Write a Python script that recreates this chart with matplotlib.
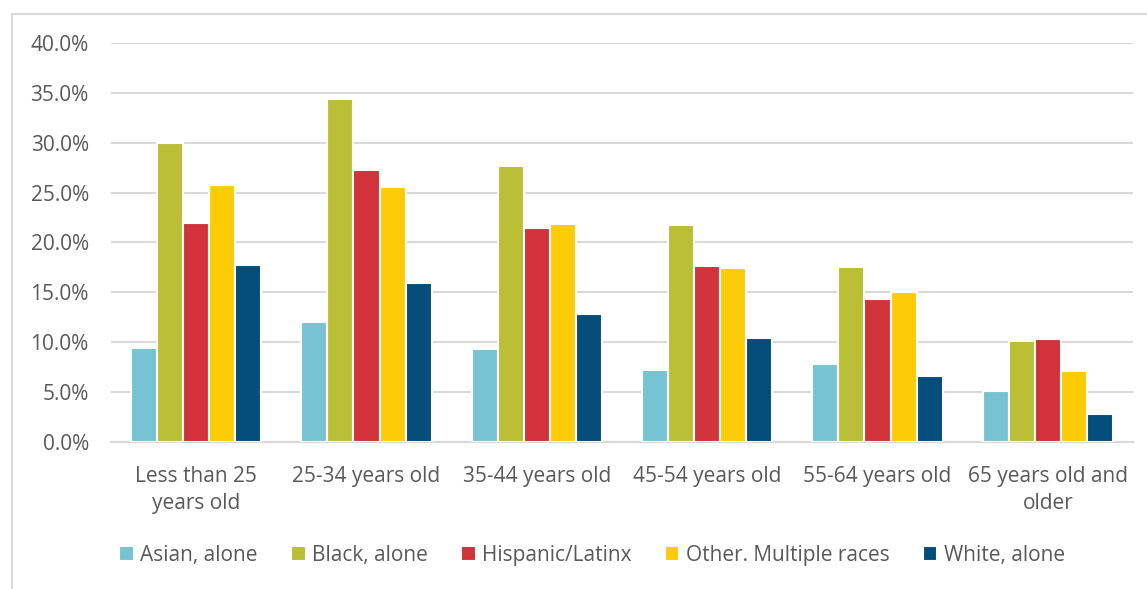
import matplotlib.pyplot as plt
import numpy as np
from matplotlib.patches import Rectangle

plt.rcParams["font.family"] = ["Open Sans", "DejaVu Sans"]

categories = ["Less than 25\nyears old", "25-34 years old", "35-44 years old",
              "45-54 years old", "55-64 years old", "65 years old and\nolder"]
series = ["Asian, alone", "Black, alone", "Hispanic/Latinx",
          "Other. Multiple races", "White, alone"]
asian = [9.4, 12.0, 9.3, 7.2, 7.8, 5.1]
black = [30.0, 34.4, 27.7, 21.8, 17.5, 10.1]
hispanic = [22.0, 27.3, 21.5, 17.6, 14.3, 10.3]
other = [25.8, 25.6, 21.9, 17.4, 15.0, 7.1]
white = [17.7, 15.9, 12.8, 10.4, 6.6, 2.8]
colors = ["#78C3D3", "#BBBF35", "#D2323A", "#FDCC08", "#054D7B"]

values = [asian, black, hispanic, other, white]
text_color = "#595959"

fig = plt.figure(figsize=(11.47, 5.89), dpi=100)
ax = fig.add_axes([111 / 1147, 1 - 442 / 589, (1133 - 111) / 1147, (442 - 43) / 589])

x = np.arange(len(categories))
slot = 0.153
for i, (name, vals) in enumerate(zip(series, values)):
    ax.bar(x + (i - 2) * slot, vals, width=slot, color=colors[i],
           edgecolor="white", linewidth=1.5, label=name, zorder=3)

ax.set_ylim(0, 40)
ax.set_xlim(-0.5, len(categories) - 0.5)
ax.set_yticks(np.arange(0, 41, 5))
ax.set_yticklabels([f"{v:.1f}%" for v in np.arange(0, 41, 5)])
ax.set_xticks(x)
ax.set_xticklabels(categories, linespacing=1.4)
ax.grid(axis="y", color="#D9D9D9", linewidth=1.5, zorder=0)
for s in ["top", "right", "left"]:
    ax.spines[s].set_visible(False)
ax.spines["bottom"].set_color("#D9D9D9")
ax.spines["bottom"].set_linewidth(1.5)
ax.tick_params(axis="both", length=0, labelsize=15, labelcolor=text_color)
ax.tick_params(axis="y", pad=16)
ax.tick_params(axis="x", pad=17)

# legend sits a bit right of the figure centre, as in the original
ax.legend(loc="center", bbox_to_anchor=(592 / 1147, (589 - 555) / 589), bbox_transform=fig.transFigure,
          ncol=5, frameon=False, fontsize=15, labelcolor=text_color,
          handlelength=0.7, handleheight=0.7, handletextpad=0.3, columnspacing=1.6)

fig.patches.append(Rectangle((12 / 1147, -0.1), 1.2, 1 - 14 / 589 + 0.1,
                             transform=fig.transFigure, fill=False,
                             edgecolor="#D9D9D9", linewidth=1.5))

fig.savefig("out.png", dpi=100)
